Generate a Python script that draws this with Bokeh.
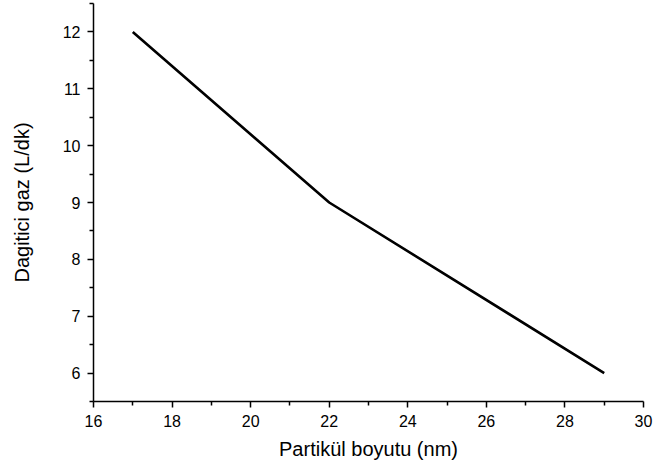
from bokeh.plotting import figure
from bokeh.models import FixedTicker, Range1d
from bokeh.embed import file_html
from bokeh.resources import INLINE

particle_size = [17, 22, 29]
gas_flow = [12, 9, 6]
x_ticks = [16, 18, 20, 22, 24, 26, 28, 30]
x_minor = [17, 19, 21, 23, 25, 27, 29]
y_ticks = [6, 7, 8, 9, 10, 11, 12]
y_minor = [5.5, 6.5, 7.5, 8.5, 9.5, 10.5, 11.5, 12.5]

p = figure(width=656, height=476, output_backend="svg", toolbar_location=None,
           x_range=Range1d(16, 30), y_range=Range1d(5.5, 12.5),
           min_border_left=93, min_border_right=13, min_border_top=3, min_border_bottom=75)
p.outline_line_color = None
p.xgrid.visible = False
p.ygrid.visible = False
p.background_fill_color = "white"
p.border_fill_color = "white"

p.line(particle_size, gas_flow, line_color="black", line_width=2.6)

p.xaxis.ticker = FixedTicker(ticks=x_ticks, minor_ticks=x_minor)
p.yaxis.ticker = FixedTicker(ticks=y_ticks, minor_ticks=y_minor)
p.xaxis.axis_label = "Partikül boyutu (nm)"
p.yaxis.axis_label = "Dagitici gaz (L/dk)"

for ax in (p.xaxis, p.yaxis):
    ax.axis_line_width = 1.5
    ax.axis_line_color = "black"
    ax.major_tick_line_color = "black"
    ax.minor_tick_line_color = "black"
    ax.major_tick_line_width = 1.5
    ax.minor_tick_line_width = 1.5
    ax.major_tick_out = 6
    ax.major_tick_in = 0
    ax.minor_tick_out = 4
    ax.minor_tick_in = 0
    ax.major_label_text_font = "Liberation Sans"
    ax.major_label_text_font_size = "16px"
    ax.major_label_text_color = "black"
    ax.axis_label_text_font = "Liberation Sans"
    ax.axis_label_text_font_size = "20px"
    ax.axis_label_text_font_style = "normal"
    ax.axis_label_text_color = "black"

p.xaxis.major_label_standoff = 7
p.yaxis.major_label_standoff = 7
p.xaxis.axis_label_standoff = 8
p.yaxis.axis_label_standoff = 27

open("out.html", "w").write(file_html(p, INLINE))
